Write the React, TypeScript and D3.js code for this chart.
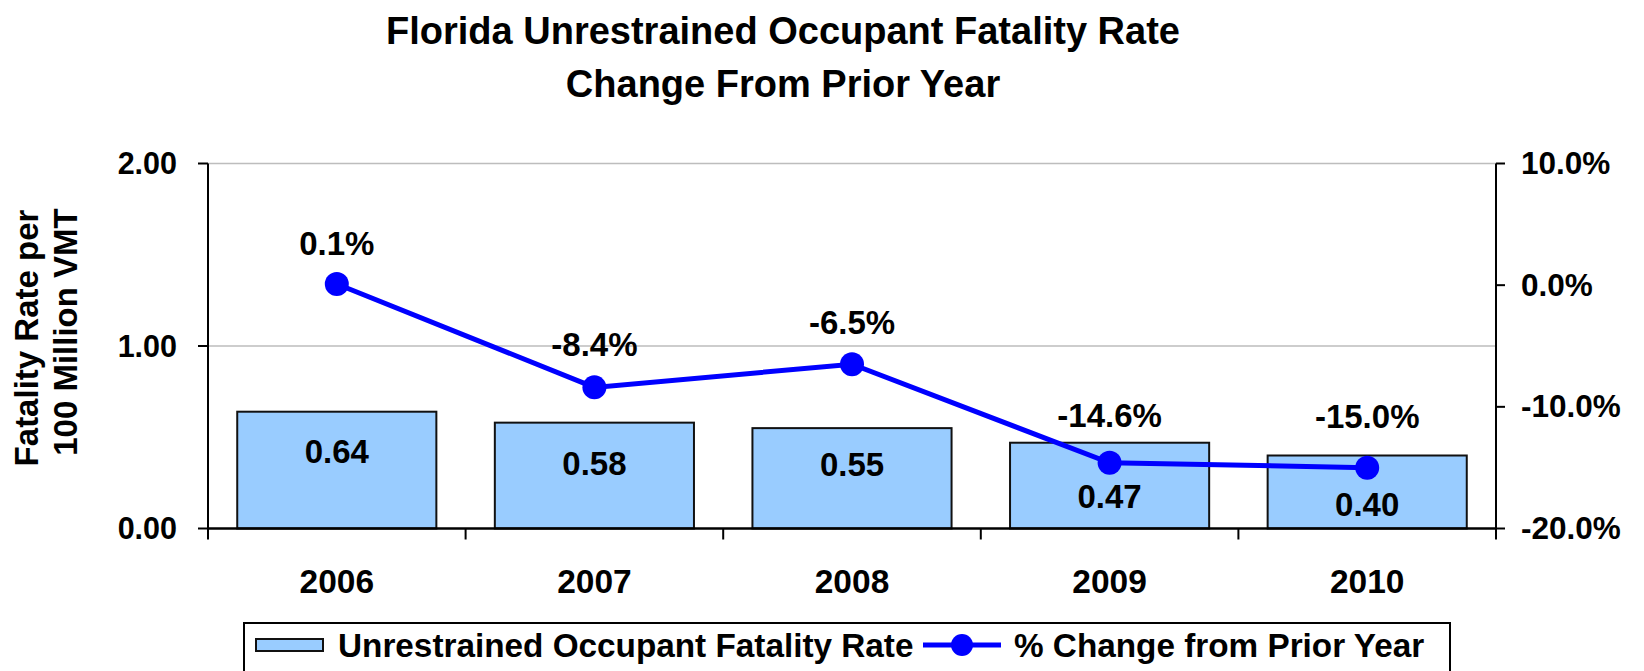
import React, { useEffect } from 'react';
import * as d3 from 'd3';

// chart data
const years = ['2006', '2007', '2008', '2009', '2010'];
const rates = [0.64, 0.58, 0.55, 0.47, 0.4];
const pctChange = [0.1, -8.4, -6.5, -14.6, -15.0];
const leftTicks = [0, 1, 2];
const rightTicks = [10, 0, -10, -20];

// the original labels were nudged by hand, so keep their offsets (px)
const rateLabelDrop = [51, 52, 48, 65, 60];
const pctLabelRise = [29, 31, 30, 36, 40];

const W = 1644, H = 671;
const left = 208, right = 1496, top = 163.5, bottom = 528.5;
const FONT = "Arial, 'Liberation Sans', sans-serif";

function Txt({ x, y, size, anchor = 'middle', rotate = 0, children }: any) {
    return (
        <text
            transform={`translate(${x},${y}) rotate(${rotate})`}
            fontSize={size}
            fontWeight="bold"
            fontFamily={FONT}
            textAnchor={anchor}
            fill="#000"
        >
            {children}
        </text>
    );
}

export default function App() {
    useEffect(() => {
        document.body.style.margin = '0';
    }, []);

    var x = d3.scaleBand().domain(years).range([left, right])
        .paddingInner(0.227).paddingOuter(0.1135);
    var step = (right - left) / years.length;
    var cx = (i: number) => left + step * (i + 0.5);
    var yL = d3.scaleLinear().domain([0, 2]).range([bottom, top]);
    var yR = d3.scaleLinear().domain([-20, 10]).range([bottom, top]);

    var line = d3.line<number>()
        .x((d, i) => cx(i))
        .y(d => yR(d));

    return (
        <svg width={W} height={H} style={{ display: 'block' }}>
            <rect width={W} height={H} fill="#fff" />

            {/* title */}
            <Txt x={783} y={44} size={38}>Florida Unrestrained Occupant Fatality Rate</Txt>
            <Txt x={783} y={97} size={38}>Change From Prior Year</Txt>

            {/* gridlines */}
            {leftTicks.filter(t => t > 0).map(t => (
                <line key={t} x1={left} x2={right} y1={yL(t)} y2={yL(t)} stroke="#bdbdbd" strokeWidth={1.5} />
            ))}

            {/* bars */}
            {years.map((yr, i) => (
                <rect key={yr} x={x(yr)} y={yL(rates[i])} width={x.bandwidth()} height={bottom - yL(rates[i])}
                    fill="#99ccff" stroke="#111" strokeWidth={2} />
            ))}

            {/* axes */}
            <line x1={left} x2={left} y1={top} y2={bottom + 11} stroke="#000" strokeWidth={2} />
            <line x1={right} x2={right} y1={top} y2={bottom + 11} stroke="#000" strokeWidth={2} />
            <line x1={left} x2={right} y1={bottom} y2={bottom} stroke="#000" strokeWidth={2.5} />
            {leftTicks.map(t => (
                <g key={t}>
                    <line x1={left - 10} x2={left} y1={yL(t)} y2={yL(t)} stroke="#000" strokeWidth={2} />
                    <Txt x={177} y={yL(t) + 10.5} size={30.5} anchor="end">{t.toFixed(2)}</Txt>
                </g>
            ))}
            {rightTicks.map(t => (
                <g key={t}>
                    <line x1={right} x2={right + 9} y1={yR(t)} y2={yR(t)} stroke="#000" strokeWidth={2} />
                    <Txt x={1521} y={yR(t) + 10.5} size={31.5} anchor="start">{t.toFixed(1) + '%'}</Txt>
                </g>
            ))}
            {years.map((yr, i) => (
                <g key={yr}>
                    {i > 0 && <line x1={left + step * i} x2={left + step * i} y1={bottom} y2={bottom + 11} stroke="#000" strokeWidth={2} />}
                    <Txt x={cx(i)} y={593} size={33.5}>{yr}</Txt>
                </g>
            ))}

            {/* y axis title */}
            <Txt x={38} y={338} size={33} rotate={-90}>Fatality Rate per</Txt>
            <Txt x={77} y={332} size={33} rotate={-90}>100 Million VMT</Txt>

            {/* bar labels */}
            {years.map((yr, i) => (
                <Txt key={yr} x={cx(i)} y={yL(rates[i]) + rateLabelDrop[i]} size={33}>{rates[i].toFixed(2)}</Txt>
            ))}

            {/* % change line */}
            <path d={line(pctChange) || ''} fill="none" stroke="#0000ff" strokeWidth={5} />
            {pctChange.map((v, i) => (
                <circle key={i} cx={cx(i)} cy={yR(v)} r={12} fill="#0000ff" />
            ))}
            {pctChange.map((v, i) => (
                <Txt key={i} x={cx(i)} y={yR(v) - pctLabelRise[i]} size={33}>{v.toFixed(1) + '%'}</Txt>
            ))}

            {/* legend */}
            <rect x={244} y={623} width={1206} height={60} fill="#fff" stroke="#000" strokeWidth={2} />
            <rect x={256} y={639} width={67} height={12} fill="#99ccff" stroke="#111" strokeWidth={2} />
            <Txt x={338} y={657} size={33.3} anchor="start">Unrestrained Occupant Fatality Rate</Txt>
            <line x1={923} x2={1001} y1={645} y2={645} stroke="#0000ff" strokeWidth={5} />
            <circle cx={962} cy={645} r={11} fill="#0000ff" />
            <Txt x={1014} y={657} size={33.3} anchor="start">% Change from Prior Year</Txt>
        </svg>
    );
}
